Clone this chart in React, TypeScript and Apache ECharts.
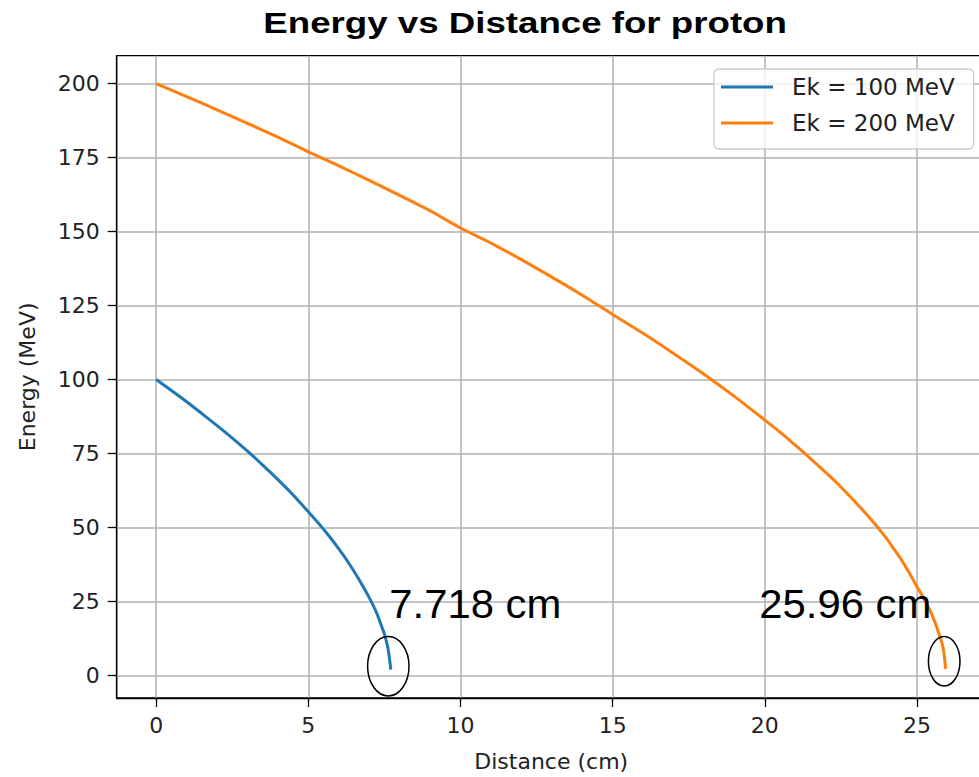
import React, { useEffect, useRef } from 'react';
import * as echarts from 'echarts';

const seriesNames = ['Ek = 100 MeV', 'Ek = 200 MeV'];

const distance100 = [0, 0.5, 1, 1.5, 2, 2.5, 3, 3.5, 4, 4.5, 5, 5.5, 5.75, 6, 6.25, 6.5, 6.75, 7, 7.25, 7.4, 7.5, 7.6, 7.65, 7.71];
const energy100 = [100, 96.3, 92.5, 88.5, 84.4, 80.2, 75.8, 71.1, 66.2, 61.0, 55.3, 49.4, 46.2, 42.8, 39.2, 35.2, 30.9, 26.3, 21.0, 16.8, 14.0, 10.0, 7.0, 2.0];

const distance200 = [0, 1, 2, 3, 4, 5, 6, 7, 8, 9, 10, 11, 12, 13, 14, 15, 16, 17, 18, 19, 20, 20.5, 21, 21.5, 22, 22.5, 23, 23.25, 23.5, 23.75, 24, 24.25, 24.5, 24.75, 25, 25.1, 25.25, 25.4, 25.5, 25.6, 25.7, 25.8, 25.85, 25.9, 25.94];
const energy200 = [200, 195.6, 191.1, 186.5, 181.9, 176.9, 172.2, 167.3, 162.2, 157.0, 151.2, 146.1, 140.5, 134.6, 128.5, 122.0, 115.6, 108.8, 101.8, 94.3, 86.3, 82.2, 77.8, 73.3, 68.6, 63.7, 58.3, 55.5, 52.6, 49.5, 46.3, 42.6, 38.9, 34.6, 30.0, 28.3, 25.6, 22.5, 20.3, 17.7, 14.8, 11.7, 9.8, 6.5, 2.2];

const xTicks = [0, 5, 10, 15, 20, 25];
const yTicks = [0, 25, 50, 75, 100, 125, 150, 175, 200];

const titleText = 'Energy vs Distance for proton';
const annotations = ['7.718 cm', '25.96 cm'];

export default function App() {
  const ref = useRef<HTMLDivElement>(null);
  useEffect(() => {
    if (!ref.current) return;
    const chart = echarts.init(ref.current, null, { renderer: 'svg' });
    const tickFont = { fontFamily: 'DejaVu Sans', fontSize: 22, color: '#222' };
    chart.setOption({
      animation: false,
      backgroundColor: '#fff',
      grid: {
        left: 116.7, top: 55.7, width: 869, height: 646,
        show: true, borderColor: '#000', borderWidth: 1.3, backgroundColor: 'transparent',
      },
      xAxis: {
        type: 'value', min: -1.298, max: 27.258,
        axisLine: { show: true, onZero: false, lineStyle: { color: '#000', width: 1.3 } },
        axisTick: { show: true, length: 9, customValues: xTicks, lineStyle: { color: '#000', width: 1.3 } },
        axisLabel: { customValues: xTicks, margin: 16, ...tickFont },
        splitLine: { show: true, lineStyle: { color: '#b0b0b0', width: 1.5 } },
        name: 'Distance (cm)', nameLocation: 'middle', nameGap: 52,
        nameTextStyle: { ...tickFont },
      },
      yAxis: {
        type: 'value', min: -7.6, max: 209.4,
        axisLine: { show: true, onZero: false, lineStyle: { color: '#000', width: 1.3 } },
        axisTick: { show: true, length: 9, customValues: yTicks, lineStyle: { color: '#000', width: 1.3 } },
        axisLabel: { customValues: yTicks, margin: 17, ...tickFont },
        splitLine: { show: true, lineStyle: { color: '#b0b0b0', width: 1.5 } },
        name: 'Energy (MeV)', nameLocation: 'middle', nameGap: 78, nameRotate: 90,
        nameTextStyle: { ...tickFont },
      },
      legend: {
        data: seriesNames,
        orient: 'vertical', left: 714, top: 69,
        itemWidth: 52, itemHeight: 3, icon: 'rect', itemGap: 10,
        padding: [5, 19, 13, 7],
        backgroundColor: 'rgba(255,255,255,0.8)', borderColor: '#cccccc', borderWidth: 1.3, borderRadius: 5,
        textStyle: { fontFamily: 'DejaVu Sans', fontSize: 23, color: '#222', lineHeight: 26, padding: [0, 0, 0, 14] },
      },
      series: [
        {
          name: seriesNames[0], type: 'line', showSymbol: false, symbol: 'none',
          smooth: 0.25,
          lineStyle: { color: '#1f77b4', width: 3 }, itemStyle: { color: '#1f77b4' },
          data: distance100.map((d, i) => [d, energy100[i]]),
        },
        {
          name: seriesNames[1], type: 'line', showSymbol: false, symbol: 'none',
          smooth: 0.25,
          lineStyle: { color: '#ff7f0e', width: 3 }, itemStyle: { color: '#ff7f0e' },
          data: distance200.map((d, i) => [d, energy200[i]]),
        },
      ],
      graphic: [
        {
          type: 'text', x: 263.3, y: 22.7, scaleX: 1.265, z: 100,
          style: { text: titleText, font: 'bold 29px "Liberation Sans", Arial, sans-serif', fill: '#000', textAlign: 'left', verticalAlign: 'middle' },
        },
        {
          type: 'text', x: 389.3, y: 603.8, scaleX: 1.02, z: 100,
          style: { text: annotations[0], font: '41px "Liberation Sans", Arial, sans-serif', fill: '#000', textAlign: 'left', verticalAlign: 'middle' },
        },
        {
          type: 'text', x: 759.3, y: 603.8, scaleX: 1.02, z: 100,
          style: { text: annotations[1], font: '41px "Liberation Sans", Arial, sans-serif', fill: '#000', textAlign: 'left', verticalAlign: 'middle' },
        },
        {
          type: 'ellipse', z: 100, shape: { cx: 388.3, cy: 666.3, rx: 20.7, ry: 29.7 },
          style: { fill: 'none', stroke: '#000', lineWidth: 1.5 },
        },
        {
          type: 'ellipse', z: 100, shape: { cx: 944.2, cy: 661.3, rx: 15.8, ry: 24.7 },
          style: { fill: 'none', stroke: '#000', lineWidth: 1.5 },
        },
      ],
    });
    return () => chart.dispose();
  }, []);
  return (
    <div style={{ position: 'fixed', left: 0, top: 0, width: 979, height: 777, overflow: 'hidden', background: '#fff' }}>
      <div ref={ref} style={{ width: 1000, height: 777 }} />
    </div>
  );
}
